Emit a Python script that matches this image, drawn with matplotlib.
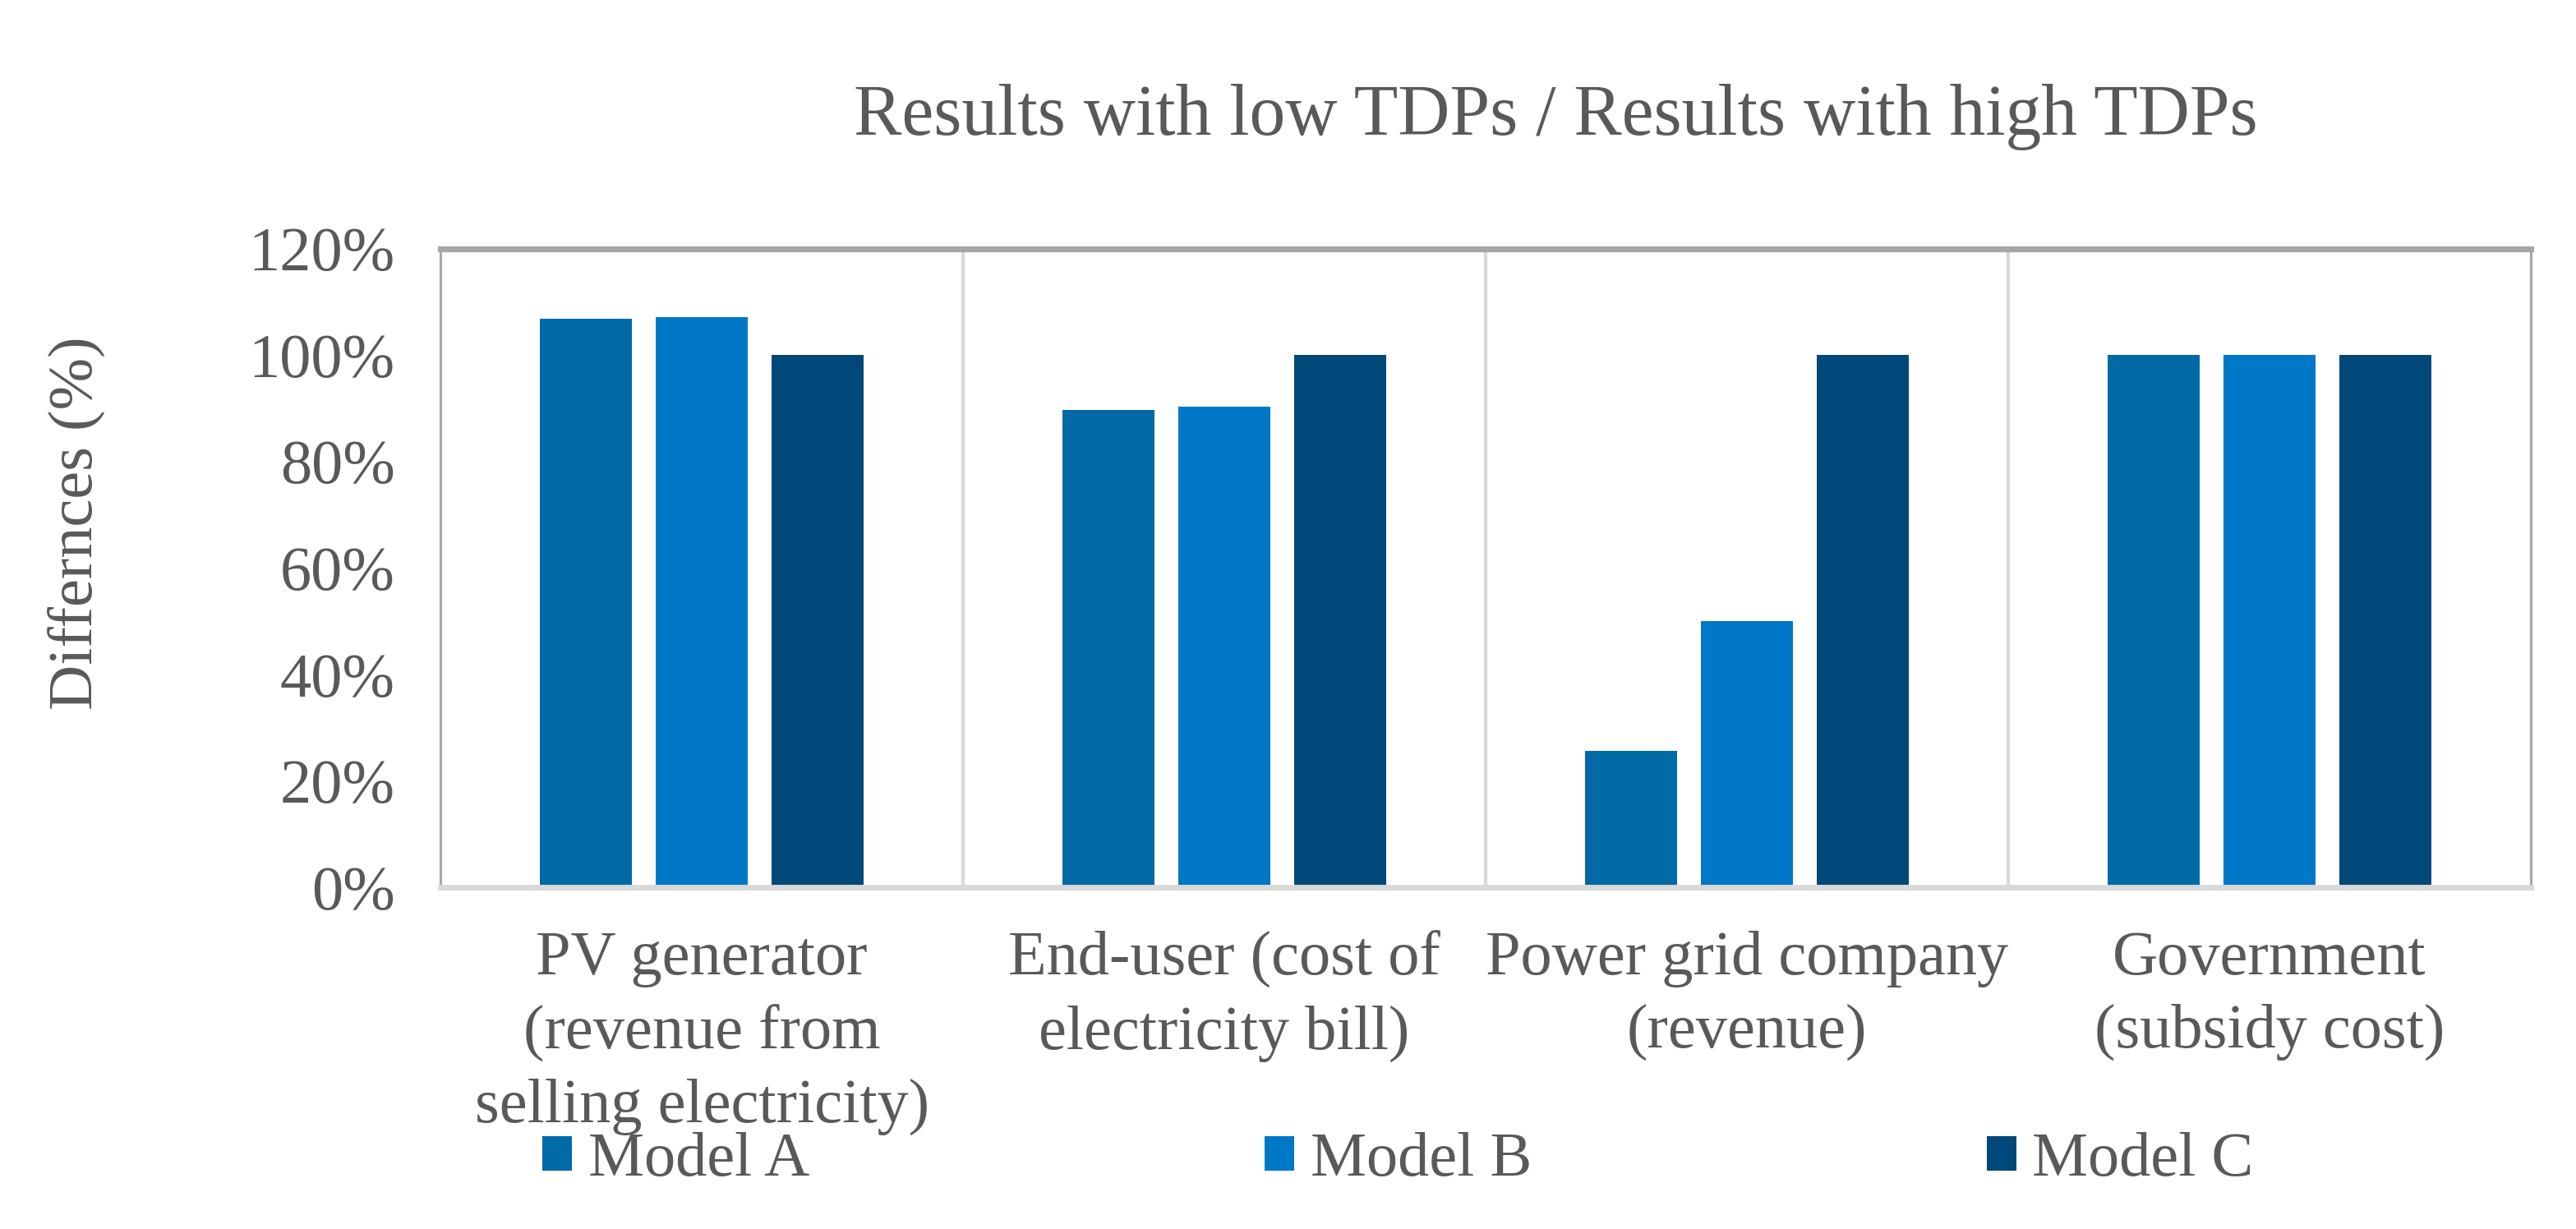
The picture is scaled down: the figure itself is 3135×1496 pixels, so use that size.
import numpy as np
import matplotlib.pyplot as plt

plt.rcParams['font.family'] = ['Liberation Serif', 'DejaVu Serif']

categories = ['PV generator\n(revenue from\nselling electricity)',
              'End-user (cost of\nelectricity bill)',
              'Power grid company\n(revenue)',
              'Government\n(subsidy cost)']
model_a = [106.8, 89.8, 25.6, 100.0]
model_b = [107.2, 90.4, 50.0, 100.0]
model_c = [100.0, 100.0, 100.0, 100.0]
series = ['Model A', 'Model B', 'Model C']
colors = ['#006AA6', '#0078C8', '#00487A']
yticks = [0, 20, 40, 60, 80, 100, 120]

txt = '#595959'
fs = 27.5

fig = plt.figure(figsize=(15.675, 7.48), dpi=200)
ax = fig.add_axes([0.171, 0.278, 0.8115, 0.5195])

x = np.arange(len(categories))
w = 0.176
step = 0.222
for j, (vals, c, name) in enumerate(zip([model_a, model_b, model_c], colors, series)):
    ax.bar(x + (j - 1) * step, vals, width=w, color=c, label=name, zorder=2)

for b in [0.5, 1.5, 2.5]:
    ax.axvline(b, color='#D9D9D9', lw=1.5, zorder=1)

ax.set_xlim(-0.5, 3.5)
ax.set_ylim(0, 120)
ax.set_yticks(yticks)
ax.set_yticklabels([f'{v}%' for v in yticks], color=txt, fontsize=fs)
ax.set_xticks(x)
ax.set_xticklabels(categories, color=txt, fontsize=fs, linespacing=1.38)
ax.tick_params(axis='both', length=0)
ax.tick_params(axis='y', pad=20)
ax.tick_params(axis='x', pad=19)

for s in ['left', 'right']:
    ax.spines[s].set_color('#A6A6A6')
    ax.spines[s].set_linewidth(1.1)
ax.spines['top'].set_color('#A6A6A6')
ax.spines['top'].set_linewidth(2.6)
ax.spines['bottom'].set_color('#D9D9D9')
ax.spines['bottom'].set_linewidth(2.5)

ax.set_ylabel('Differnces (%)', color=txt, fontsize=fs)
ax.yaxis.set_label_coords(-0.160, 0.571)

fig.text(0.604, 0.905, 'Results with low TDPs / Results with high TDPs',
         ha='center', va='center', color=txt, fontsize=31.5)

leg = fig.legend(loc='center left', bbox_to_anchor=(0.2105, 0.056), ncol=3,
                 frameon=False, fontsize=fs, handlelength=0.47, handleheight=0.47,
                 handletextpad=0.26, columnspacing=7.25, borderpad=0, borderaxespad=0)
for t in leg.get_texts():
    t.set_color(txt)

fig.savefig('out.png', dpi=200)
